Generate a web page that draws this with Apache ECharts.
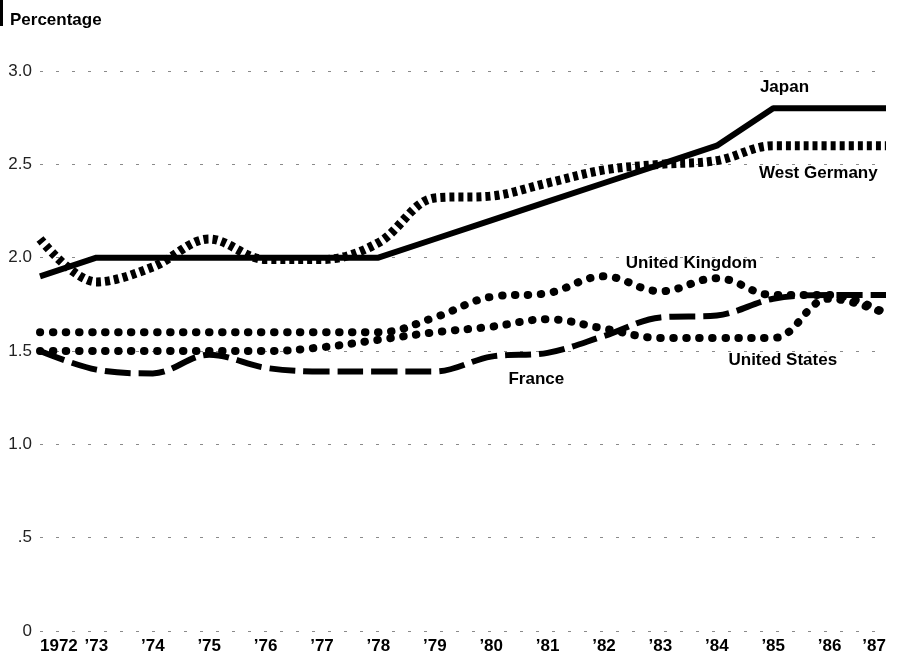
<!DOCTYPE html>
<html><head><meta charset="utf-8">
<script src="https://cdn.jsdelivr.net/npm/echarts@6.0.0/dist/echarts.min.js"></script>
<style>html,body{margin:0;padding:0;background:#fff}#c{width:898px;height:655px}</style>
</head><body><div id="c"></div>
<script>
// ---- data ----
const years = [1972,1973,1974,1975,1976,1977,1978,1979,1980,1981,1982,1983,1984,1985,1986,1987];
const xTickLabels = ['1972','\u201973','\u201974','\u201975','\u201976','\u201977','\u201978','\u201979','\u201980','\u201981','\u201982','\u201983','\u201984','\u201985','\u201986','\u201987'];
const yTicks = [0, 0.5, 1.0, 1.5, 2.0, 2.5, 3.0];
const yTickLabels = ['0', '.5', '1.0', '1.5', '2.0', '2.5', '3.0'];
const japan         = [1.9, 2.0, 2.0, 2.0, 2.0, 2.0, 2.0, 2.1, 2.2, 2.3, 2.4, 2.5, 2.6, 2.8, 2.8, 2.8];
const westGermany   = [2.1, 1.87, 1.95, 2.1, 1.99, 1.99, 2.08, 2.32, 2.33, 2.4, 2.47, 2.5, 2.52, 2.6, 2.6, 2.6];
const unitedKingdom = [1.6, 1.6, 1.6, 1.6, 1.6, 1.6, 1.6, 1.68, 1.79, 1.81, 1.9, 1.82, 1.89, 1.8, 1.8, 1.7];
const unitedStates  = [1.5, 1.5, 1.5, 1.5, 1.5, 1.52, 1.56, 1.6, 1.63, 1.67, 1.62, 1.57, 1.57, 1.57, 1.78, 1.7];
const france        = [1.5, 1.4, 1.38, 1.48, 1.41, 1.39, 1.39, 1.39, 1.47, 1.49, 1.58, 1.68, 1.69, 1.78, 1.8, 1.8];
const seriesNames = ['Japan', 'West Germany', 'United Kingdom', 'United States', 'France'];
// label anchors (data units: year, percentage)
const labelAnchors = [[1985.2, 2.91], [1985.8, 2.45], [1983.55, 1.97], [1985.17, 1.45], [1980.8, 1.35]];

const FONT = '"Liberation Sans", Arial, sans-serif';
const pairs = arr => years.map((y, i) => [y, arr[i]]);

const chart = echarts.init(document.getElementById('c'), null, {renderer: 'canvas'});
const base = {type: 'line', symbol: 'none', silent: true, animation: false};
chart.setOption({
  animation: false,
  backgroundColor: '#fff',
  title: {text: 'Percentage', left: 10, top: 12, padding: 0,
    textStyle: {fontFamily: FONT, fontSize: 17, fontWeight: 'bold', color: '#000'}},
  grid: {left: 40, right: 12, top: 71, bottom: 23, containLabel: false},
  xAxis: {type: 'value', min: 1972, max: 1987, interval: 1,
    axisLine: {show: false}, axisTick: {show: false}, splitLine: {show: false},
    axisLabel: {margin: 7, fontFamily: FONT, fontSize: 17, fontWeight: 'bold', color: '#000',
      hideOverlap: false, showMinLabel: true, showMaxLabel: true, alignMinLabel: 'left', alignMaxLabel: 'right',
      formatter: v => { const i = years.indexOf(Math.round(v)); return i >= 0 ? xTickLabels[i] : ''; }}},
  yAxis: {type: 'value', min: 0, max: 3, interval: 0.5,
    axisLine: {show: false}, axisTick: {show: false},
    splitLine: {show: true, lineStyle: {color: '#8a8a8a', width: 1, type: [3, 13]}},
    axisLabel: {margin: 8, fontFamily: FONT, fontSize: 17, color: '#222',
      formatter: v => { const i = yTicks.findIndex(t => Math.abs(t - v) < 1e-6); return i >= 0 ? yTickLabels[i] : ''; }}},
  series: [
    Object.assign({}, base, {name: seriesNames[1], data: pairs(westGermany), smooth: 0.35,
      lineStyle: {color: '#000', width: 9, type: [5, 4], cap: 'butt'}}),
    Object.assign({}, base, {name: seriesNames[0], data: pairs(japan), smooth: false,
      lineStyle: {color: '#000', width: 6, type: 'solid', join: 'round'}}),
    Object.assign({}, base, {name: seriesNames[2], data: pairs(unitedKingdom), smooth: 0.4,
      lineStyle: {color: '#000', width: 8, type: [0.5, 12.5], cap: 'round'}}),
    Object.assign({}, base, {name: seriesNames[3], data: pairs(unitedStates), smooth: 0.4,
      lineStyle: {color: '#000', width: 8, type: [0.5, 12.5], cap: 'round'}}),
    Object.assign({}, base, {name: seriesNames[4], data: pairs(france), smooth: 0.35,
      lineStyle: {color: '#000', width: 6, type: [26, 8], cap: 'butt'}})
  ]
});

const graphics = [{type: 'rect', left: 0, top: 0, shape: {width: 3, height: 26}, style: {fill: '#000'}}];
seriesNames.forEach((name, i) => {
  const p = chart.convertToPixel({gridIndex: 0}, labelAnchors[i]);
  graphics.push({type: 'text', x: p[0], y: p[1], silent: true,
    style: {text: name, fill: '#000', font: 'bold 17px ' + FONT, align: 'center', verticalAlign: 'middle'}});
});
chart.setOption({graphic: graphics});
</script></body></html>
